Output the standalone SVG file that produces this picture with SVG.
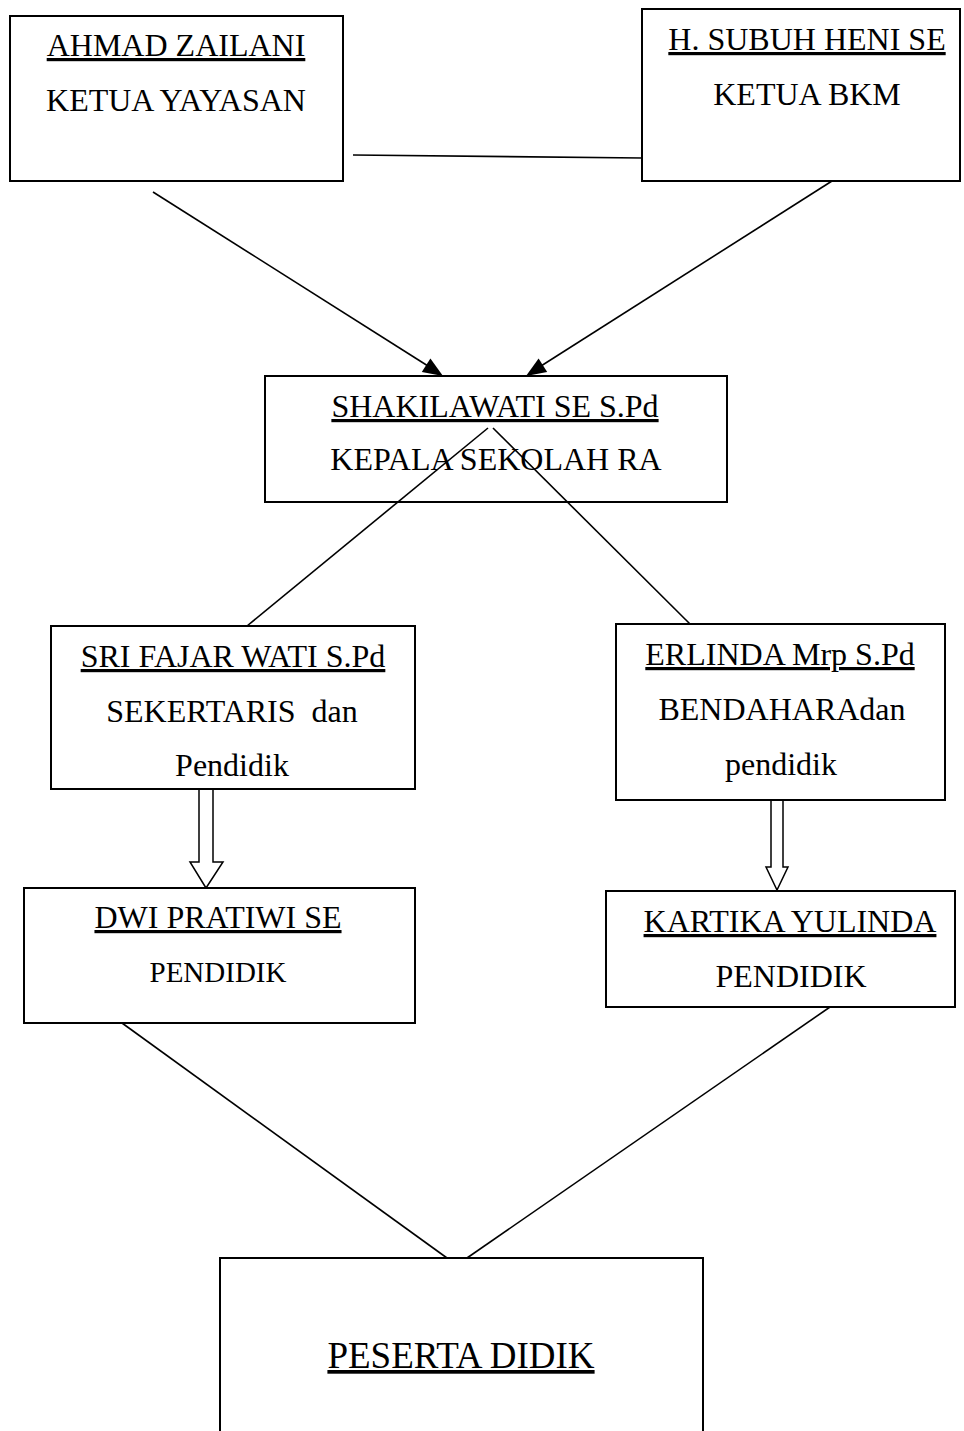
<svg xmlns="http://www.w3.org/2000/svg" width="964" height="1431" viewBox="0 0 964 1431">
<style>
.box{fill:#fff;stroke:#000;stroke-width:2}
.t{font-family:"Liberation Serif","Times New Roman",serif;font-size:32px;fill:#000;text-anchor:middle}
.u{text-decoration:underline}
.ln{stroke:#000;stroke-width:1.6;fill:none}
.hol{fill:#fff;stroke:#000;stroke-width:1.5}
.head{fill:#000;stroke:none}
</style>
<rect width="964" height="1431" fill="#fff"/>
<g id="connectors">
<line class="ln" x1="353" y1="155" x2="642" y2="158"/>
<line class="ln" x1="153" y1="192" x2="428" y2="366"/>
<polygon class="head" points="443,376 430.4,358.5 421.8,372.1"/>
<line class="ln" x1="832" y1="181" x2="541" y2="366"/>
<polygon class="head" points="526,376 538.6,358.5 547.2,372"/>
<line class="ln" x1="488" y1="428" x2="247" y2="626"/>
<line class="ln" x1="493" y1="428" x2="690" y2="624"/>
<path class="hol" d="M199,789 L199,862 L190,862 L206,888 L223,862 L213,862 L213,789"/>
<path class="hol" d="M771,800 L771,867 L766,867 L777,890 L788,867 L783,867 L783,800"/>
<line class="ln" x1="122" y1="1023" x2="447" y2="1258"/>
<line class="ln" x1="830" y1="1007" x2="467" y2="1258"/>
</g>
<g id="ahmad">
<rect class="box" x="10" y="16" width="333" height="165"/>
<text class="t u" x="176" y="56">AHMAD ZAILANI</text>
<text class="t" x="176" y="111">KETUA YAYASAN</text>
</g>
<g id="subuh">
<rect class="box" x="642" y="9" width="318" height="172"/>
<text class="t u" x="807" y="50">H. SUBUH HENI SE</text>
<text class="t" x="807" y="105">KETUA BKM</text>
</g>
<g id="shakilawati">
<rect class="box" x="265" y="376" width="462" height="126" fill-opacity="0"/>
<text class="t u" x="495" y="417">SHAKILAWATI SE S.Pd</text>
<text class="t" x="496" y="470">KEPALA SEKOLAH RA</text>
</g>
<g id="sri">
<rect class="box" x="51" y="626" width="364" height="163"/>
<text class="t u" x="233" y="667">SRI FAJAR WATI S.Pd</text>
<text class="t" x="232" y="722" style="white-space:pre">SEKERTARIS  dan</text>
<text class="t" x="232" y="776">Pendidik</text>
</g>
<g id="erlinda">
<rect class="box" x="616" y="624" width="329" height="176"/>
<text class="t u" x="780" y="665">ERLINDA Mrp S.Pd</text>
<text class="t" x="782" y="720">BENDAHARAdan</text>
<text class="t" x="781" y="775">pendidik</text>
</g>
<g id="dwi">
<rect class="box" x="24" y="888" width="391" height="135"/>
<text class="t u" x="218" y="928">DWI PRATIWI SE</text>
<text class="t" x="218" y="982" style="font-size:29px">PENDIDIK</text>
</g>
<g id="kartika">
<rect class="box" x="606" y="891" width="349" height="116"/>
<text class="t u" x="790" y="932">KARTIKA YULINDA</text>
<text class="t" x="791" y="987">PENDIDIK</text>
</g>
<g id="peserta">
<rect class="box" x="220" y="1258" width="483" height="190"/>
<text class="t u" x="461" y="1368" style="font-size:37px">PESERTA DIDIK</text>
</g>
</svg>
